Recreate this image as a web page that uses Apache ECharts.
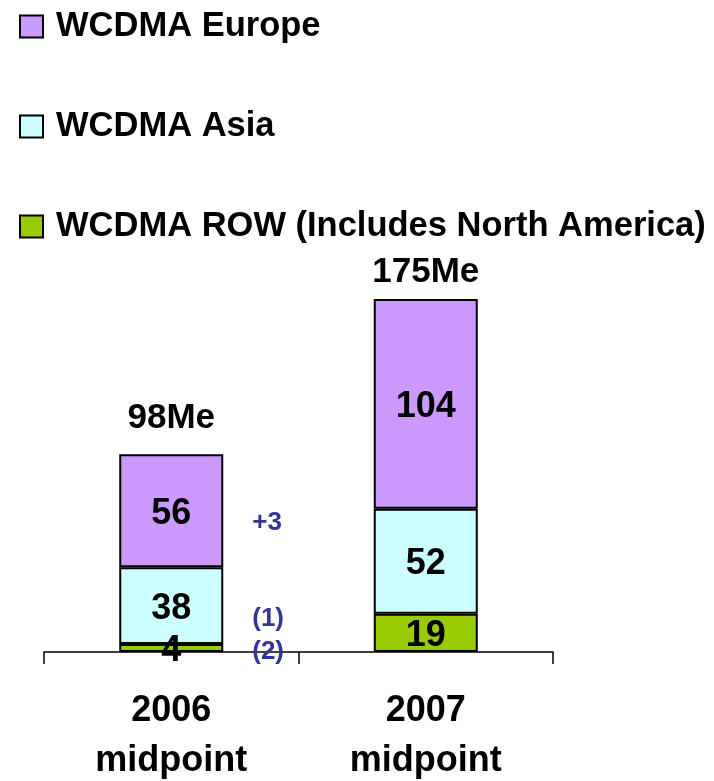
<!DOCTYPE html>
<html>
<head>
<meta charset="utf-8">
<script src="https://cdn.jsdelivr.net/npm/echarts@6/dist/echarts.min.js"></script>
<style>html,body{margin:0;padding:0;background:#fff;}#c{width:714px;height:781px;}</style>
</head>
<body>
<div id="c"></div>
<script>
const categories = ['2006\nmidpoint', '2007\nmidpoint'];
const rowValues = [4, 19];
const asiaValues = [38, 52];
const europeValues = [56, 104];
const totals = [98, 175];
const rowNotes = ['(2)', ''];
const asiaNotes = ['(1)', ''];
const europeNotes = ['+3', ''];

const FONT = '"Liberation Sans", Arial, sans-serif';
const chart = echarts.init(document.getElementById('c'));

function mainSeries(name, data, color) {
  return {
    name: name, type: 'bar', stack: 'main', data: data,
    barWidth: 104, barGap: '-100%',
    itemStyle: { color: color, borderColor: '#000', borderWidth: 2 },
    label: { show: true, position: 'inside', offset: [0, 3], color: '#000', fontFamily: FONT, fontWeight: 'bold', fontSize: 36 },
    emphasis: { disabled: true }, animation: false
  };
}
function noteSeries(values, notes, dy) {
  return {
    type: 'bar', stack: 'notes', barWidth: 104, barGap: '-100%',
    data: values.map((v, i) => ({ value: v, label: { offset: [0, dy[i]] } })),
    itemStyle: { color: 'rgba(0,0,0,0)', borderWidth: 0 },
    label: { show: true, position: 'right', distance: 29, color: '#333399', fontFamily: FONT, fontWeight: 'bold', fontSize: 26,
      formatter: p => notes[p.dataIndex] },
    emphasis: { disabled: true }, animation: false, silent: true
  };
}
const totalDistance = [18, 9];

chart.setOption({
  animation: false,
  legend: {
    orient: 'vertical', left: 14, top: 4,
    itemWidth: 23, itemHeight: 22, itemGap: 65,
    icon: 'rect',
    data: ['WCDMA Europe', 'WCDMA Asia', 'WCDMA ROW (Includes North America)'],
    textStyle: { color: '#000', fontFamily: FONT, fontWeight: 'bold', fontSize: 34.5, padding: [0, 0, 0, 8] },
    selectedMode: false
  },
  grid: { left: 44, right: 161, top: 299, bottom: 129, containLabel: false, outerBoundsMode: 'none' },
  xAxis: {
    type: 'category', data: categories,
    axisLine: { lineStyle: { color: '#000', width: 1.5 } },
    axisTick: { show: true, length: 12, lineStyle: { color: '#000', width: 1.5 } },
    axisLabel: { color: '#000', fontFamily: FONT, fontWeight: 'bold', fontSize: 36, lineHeight: 50, margin: 34 }
  },
  yAxis: { type: 'value', min: 0, max: 175, show: false, splitLine: { show: false } },
  series: [
    mainSeries('WCDMA ROW (Includes North America)', rowValues, '#99CC00'),
    mainSeries('WCDMA Asia', asiaValues, '#CCFFFF'),
    mainSeries('WCDMA Europe', europeValues, '#CC99FF'),
    noteSeries(rowValues, rowNotes, [4, 4]),
    noteSeries(asiaValues, asiaNotes, [13, 13]),
    noteSeries(europeValues, europeNotes, [12, 12]),
    {
      type: 'scatter', symbolSize: 0,
      itemStyle: { opacity: 1 },
      data: totals.map((v, i) => ({ value: v, label: { distance: totalDistance[i] } })),
      label: { show: true, position: 'top', color: '#000', opacity: 1, fontFamily: FONT, fontWeight: 'bold', fontSize: 35,
        formatter: p => p.value + 'Me' },
      emphasis: { disabled: true }, silent: true, animation: false
    }
  ]
});
</script>
</body>
</html>
